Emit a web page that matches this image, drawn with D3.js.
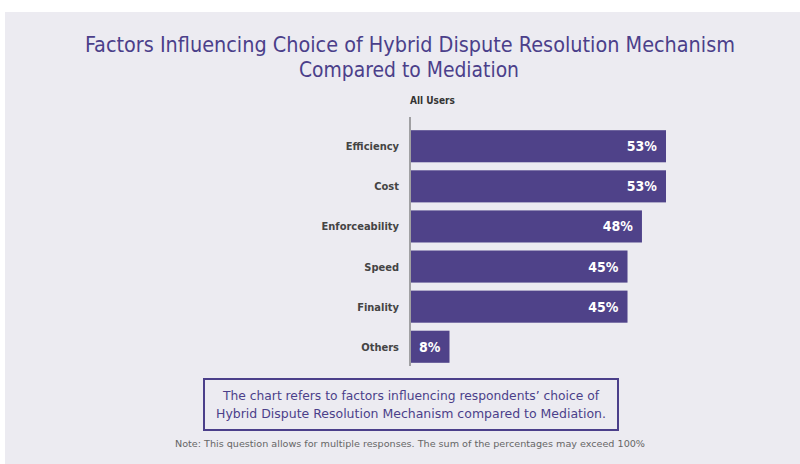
<!DOCTYPE html>
<html>
<head>
<meta charset="utf-8">
<script src="https://cdn.jsdelivr.net/npm/d3@7"></script>
<style>
  body { margin: 0; background: #fff; }
  svg { display: block; }
  text { font-stretch: condensed; }
</style>
</head>
<body>
<div id="chart"></div>
<script>
var factors = ["Efficiency", "Cost", "Enforceability", "Speed", "Finality", "Others"];
var allUsers = [53, 53, 48, 45, 45, 8];
var valueLabels = ["53%", "53%", "48%", "45%", "45%", "8%"];

var W = 800, H = 464;
var barColor = "#4f4289";
var purple = "#4b3f8a";
var font = "'DejaVu Sans', sans-serif";

var svg = d3.select("#chart").append("svg").attr("width", W).attr("height", H);

// panel background
svg.append("rect").attr("x", 5).attr("y", 12).attr("width", W - 5).attr("height", H - 12)
   .attr("fill", "#ecebf1");

// title
var title = svg.append("text").attr("text-anchor", "middle").attr("fill", purple)
   .style("font-family", font).style("font-size", "21px");
title.append("tspan").attr("x", 410).attr("y", 52)
   .attr("textLength", 650).attr("lengthAdjust", "spacingAndGlyphs")
   .text("Factors Influencing Choice of Hybrid Dispute Resolution Mechanism");
title.append("tspan").attr("x", 409).attr("y", 77)
   .attr("textLength", 220).attr("lengthAdjust", "spacingAndGlyphs")
   .text("Compared to Mediation");

var x0 = 411;
var x = d3.scaleLinear().domain([0, 53]).range([x0, 666]);
var y = d3.scaleBand().domain(factors).range([127, 366]).paddingInner(0.2).paddingOuter(0.08);

svg.append("text").attr("x", 410).attr("y", 104).attr("fill", "#333")
   .style("font-family", font).style("font-size", "10px").style("font-weight", "bold")
   .text("All Users");

svg.append("line").attr("x1", 410).attr("x2", 410).attr("y1", 117).attr("y2", 366)
   .attr("stroke", "#555").attr("stroke-width", 1);

svg.selectAll("rect.bar")
   .data(allUsers)
   .enter()
   .append("rect")
   .attr("class", "bar")
   .attr("x", x0)
   .attr("y", function(d, i) { return y(factors[i]); })
   .attr("width", function(d) { return x(d) - x0; })
   .attr("height", y.bandwidth())
   .attr("fill", barColor);

svg.selectAll("text.val")
   .data(allUsers)
   .enter()
   .append("text")
   .attr("class", "val")
   .attr("x", function(d) { return x(d) - 9; })
   .attr("y", function(d, i) { return y(factors[i]) + y.bandwidth() / 2 + 5; })
   .attr("text-anchor", "end")
   .attr("fill", "#fff")
   .style("font-family", font).style("font-size", "14px").style("font-weight", "bold")
   .text(function(d, i) { return valueLabels[i]; });

svg.selectAll("text.cat")
   .data(factors)
   .enter()
   .append("text")
   .attr("class", "cat")
   .attr("x", 399)
   .attr("y", function(d) { return y(d) + y.bandwidth() / 2 + 4; })
   .attr("text-anchor", "end")
   .attr("fill", "#444")
   .style("font-family", font).style("font-size", "11px").style("font-weight", "bold")
   .text(function(d) { return d; });

// note box
svg.append("rect").attr("x", 204).attr("y", 379).attr("width", 414).attr("height", 51)
   .attr("fill", "none").attr("stroke", purple).attr("stroke-width", 2);
var boxText = svg.append("text").attr("text-anchor", "middle").attr("fill", purple)
   .style("font-family", font).style("font-size", "13px");
boxText.append("tspan").attr("x", 411).attr("y", 400)
   .attr("textLength", 376).attr("lengthAdjust", "spacingAndGlyphs")
   .text("The chart refers to factors influencing respondents\u2019 choice of");
boxText.append("tspan").attr("x", 411).attr("y", 418)
   .attr("textLength", 390).attr("lengthAdjust", "spacingAndGlyphs")
   .text("Hybrid Dispute Resolution Mechanism compared to Mediation.");

svg.append("text").attr("x", 410).attr("y", 447).attr("text-anchor", "middle").attr("fill", "#666")
   .attr("textLength", 470).attr("lengthAdjust", "spacingAndGlyphs")
   .style("font-family", font).style("font-size", "8px")
   .text("Note: This question allows for multiple responses. The sum of the percentages may exceed 100%");
</script>
</body>
</html>
